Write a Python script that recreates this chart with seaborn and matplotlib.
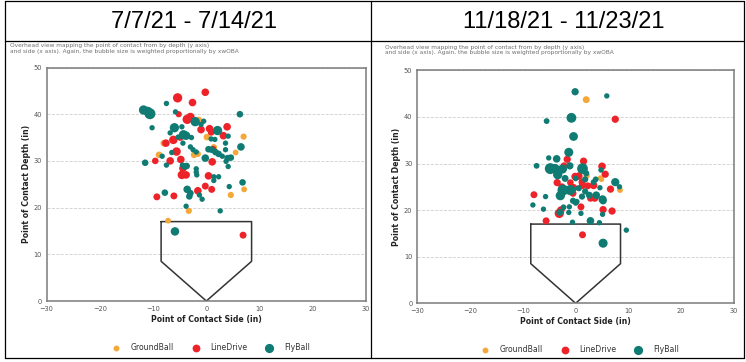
import matplotlib
matplotlib.use('Agg')
import matplotlib.pyplot as plt
import seaborn as sns
import pandas as pd
from matplotlib.lines import Line2D

OUT_FILE = 'out.png'

TYPES = ['GroundBall', 'LineDrive', 'FlyBall']
PALETTE = {'GroundBall': '#f4a83a', 'LineDrive': '#ee2229', 'FlyBall': '#0f7b73'}
TITLES = ['7/7/21 - 7/14/21', '11/18/21 - 11/23/21']
NOTE = ('Overhead view mapping the point of contact from by depth (y axis)\n'
        'and side (x axis). Again, the bubble size is weighted proportionally by xwOBA')
X_TICKS = [-30, -20, -10, 0, 10, 20, 30]
Y_TICKS = [0, 10, 20, 30, 40, 50]

# home plate outline (inches)
PLATE_X = [-8.5, 8.5, 8.5, 0, -8.5, -8.5]
PLATE_Y = [17, 17, 8.5, 0, 8.5, 17]

# ---- 7/7/21 - 7/14/21 : (side, depth, xwOBA) ----
JUL_GB = [(-1.4, 38.8, 0.4), (0.1, 35.1, 0.45), (-8.0, 33.8, 0.45), (-8.9, 31.3, 0.45),
          (-2.3, 31.3, 0.45), (-1.6, 31.5, 0.4), (1.4, 32.9, 0.45), (7.0, 35.2, 0.4),
          (5.5, 31.8, 0.35), (4.6, 22.7, 0.4), (7.1, 23.9, 0.35), (-3.3, 19.3, 0.4),
          (-7.2, 17.2, 0.35)]
JUL_LD = [(-5.4, 43.5, 0.9), (-0.2, 44.7, 0.6), (-2.6, 42.5, 0.6), (-5.2, 40.0, 0.4),
          (-3.6, 38.9, 0.9), (-3.0, 39.4, 0.75), (-1.0, 36.7, 0.6), (0.6, 36.9, 0.6),
          (3.9, 37.3, 0.6), (3.2, 35.4, 0.6), (0.9, 36.1, 0.45), (-6.2, 34.5, 0.75),
          (-7.6, 33.8, 0.6), (-5.6, 32.0, 0.75), (-4.8, 30.3, 0.6), (-6.8, 30.0, 0.6),
          (-9.6, 30.0, 0.45), (1.1, 29.8, 0.6), (-4.4, 28.4, 0.6), (-4.6, 27.0, 0.75),
          (-3.8, 27.0, 0.6), (0.4, 26.8, 0.6), (-0.2, 24.6, 0.5), (-1.6, 23.6, 0.6),
          (1.0, 23.9, 0.5), (-9.3, 22.3, 0.5), (-6.1, 22.5, 0.5), (6.9, 14.1, 0.5),
          (-4.9, 35.0, 0.45), (1.3, 32.6, 0.35)]
JUL_FB = [(-11.8, 40.9, 0.9), (-10.6, 40.1, 1.25), (-11.0, 40.6, 0.9), (-7.5, 42.3, 0.3),
          (-5.8, 40.5, 0.3), (-10.2, 37.1, 0.3), (-2.1, 38.4, 0.9), (-0.5, 38.5, 0.3),
          (-6.0, 37.1, 0.9), (-4.6, 37.3, 0.3), (-4.3, 35.6, 0.9), (-3.8, 35.4, 0.75),
          (-6.8, 36.0, 0.3), (-5.3, 35.1, 0.3), (2.1, 36.5, 0.9), (1.6, 34.6, 0.3),
          (4.1, 35.3, 0.3), (3.6, 33.8, 0.3), (6.3, 40.0, 0.45), (6.5, 33.0, 0.6),
          (-4.4, 33.8, 0.3), (-3.0, 33.0, 0.3), (-2.5, 32.4, 0.3), (-1.9, 31.9, 0.3),
          (0.4, 32.5, 0.45), (1.0, 32.4, 0.45), (1.7, 31.9, 0.45), (2.3, 31.5, 0.45),
          (3.0, 31.0, 0.3), (3.6, 32.4, 0.3), (4.0, 30.6, 0.45), (4.6, 30.7, 0.45),
          (3.7, 29.9, 0.3), (4.1, 28.8, 0.3), (-8.3, 31.0, 0.3), (-6.5, 31.8, 0.3),
          (-11.5, 29.6, 0.45), (-7.5, 29.1, 0.3), (-4.5, 29.1, 0.3), (-4.1, 28.8, 0.45),
          (-3.7, 28.9, 0.45), (-0.2, 30.6, 0.6), (-1.9, 28.3, 0.3), (-1.9, 27.6, 0.3),
          (-1.8, 27.0, 0.3), (1.4, 26.6, 0.3), (2.3, 26.6, 0.3), (1.4, 25.8, 0.3),
          (4.3, 24.5, 0.3), (6.8, 25.4, 0.45), (-3.6, 23.9, 0.6), (-3.0, 23.1, 0.45),
          (-3.2, 22.4, 0.45), (-7.8, 23.2, 0.45), (-1.3, 22.7, 0.3), (-0.8, 21.8, 0.3),
          (-3.8, 20.3, 0.3), (2.6, 19.3, 0.3), (-5.9, 14.9, 0.75), (-2.8, 35.0, 0.3),
          (0.9, 34.7, 0.3), (-1.0, 37.8, 0.3)]

# ---- 11/18/21 - 11/23/21 : (side, depth, xwOBA) ----
NOV_GB = [(2.0, 43.7, 0.5), (2.1, 27.4, 0.4), (4.9, 26.6, 0.3), (8.4, 24.3, 0.35),
          (4.7, 26.9, 0.3)]
NOV_LD = [(7.5, 39.5, 0.55), (-1.6, 30.9, 0.55), (1.5, 30.5, 0.55), (-2.2, 29.5, 0.5),
          (5.0, 29.4, 0.6), (5.6, 27.7, 0.55), (-0.1, 27.2, 0.6), (0.6, 27.3, 0.6),
          (-3.5, 25.9, 0.55), (-0.4, 24.8, 0.6), (1.3, 25.3, 0.55), (3.4, 25.3, 0.6),
          (6.6, 24.5, 0.55), (-7.9, 23.3, 0.5), (-0.5, 23.6, 0.5), (3.6, 22.6, 0.6),
          (1.0, 20.7, 0.5), (-3.1, 19.3, 0.9), (-5.6, 17.7, 0.5), (5.2, 20.1, 0.55),
          (6.9, 19.8, 0.55), (1.3, 14.7, 0.5), (-2.6, 25.0, 0.5), (1.2, 26.0, 0.5),
          (2.3, 25.2, 0.5), (2.8, 22.5, 0.45), (-1.0, 25.9, 0.45), (-2.8, 20.0, 0.6)]
NOV_FB = [(-0.1, 45.4, 0.55), (5.9, 44.5, 0.3), (-5.5, 39.1, 0.35), (-0.8, 39.8, 1.0),
          (-0.4, 35.8, 0.8), (-1.3, 32.4, 0.85), (-3.6, 31.0, 0.6), (-5.1, 31.2, 0.3),
          (-7.4, 29.5, 0.35), (-4.8, 28.9, 1.25), (-3.9, 28.9, 0.9), (-2.5, 28.8, 0.85),
          (-1.1, 29.5, 0.55), (1.3, 28.9, 1.2), (4.8, 28.6, 0.3), (-3.4, 27.6, 0.9),
          (0.0, 26.8, 0.35), (2.0, 27.9, 0.4), (7.5, 26.0, 0.7), (3.4, 26.0, 0.35),
          (8.3, 25.0, 0.3), (4.6, 24.8, 0.3), (-5.7, 22.9, 0.3), (-2.4, 24.3, 1.25),
          (-1.0, 24.3, 1.1), (-2.9, 23.1, 0.9), (0.6, 24.7, 0.4), (1.8, 24.0, 0.4),
          (5.1, 22.3, 0.7), (-8.1, 21.1, 0.3), (-6.1, 20.2, 0.3), (-2.3, 20.6, 0.35),
          (-3.0, 19.5, 0.5), (-0.6, 17.4, 0.3), (2.8, 17.7, 0.6), (4.5, 17.3, 0.3),
          (1.0, 19.3, 0.3), (5.1, 19.1, 0.3), (-1.3, 19.5, 0.3), (-1.2, 20.7, 0.3),
          (0.0, 21.5, 0.3), (5.2, 22.0, 0.55), (5.2, 12.9, 0.85), (9.6, 15.7, 0.3),
          (-2.0, 26.8, 0.5), (-0.5, 22.0, 0.4), (1.2, 22.9, 0.4), (2.6, 23.2, 0.5),
          (3.9, 23.2, 0.6), (0.2, 21.8, 0.35), (1.8, 26.6, 0.4), (3.8, 26.6, 0.35)]

PANELS = [(JUL_GB, JUL_LD, JUL_FB), (NOV_GB, NOV_LD, NOV_FB)]

# layout in pixels of the 746x362 picture
W, H = 746, 362
AX_BOX = [(46.7, 67.5, 366.0, 301.0), (417.3, 70.3, 734.0, 303.3)]
TITLE_X = [194, 564]
NOTE_POS = [(10, 43.5), (385, 44.5)]
LEGEND_X = [209, 578]
LEGEND_Y = [348, 350]


def build_frame(gb, ld, fb):
    rows = []
    for name, pts in zip(TYPES, (gb, ld, fb)):
        for side, depth, xw in pts:
            rows.append({'side': side, 'depth': depth, 'xwoba': xw, 'type': name})
    return pd.DataFrame(rows)


def px_box(box):
    x0, y0, x1, y1 = box
    return [x0 / W, 1 - y1 / H, (x1 - x0) / W, (y1 - y0) / H]


def fig_line(fig, x0, y0, x1, y1):
    fig.add_artist(Line2D([x0 / W, x1 / W], [1 - y0 / H, 1 - y1 / H],
                          transform=fig.transFigure, color='black', lw=0.9))


def draw_panel(fig, i, pts):
    ax = fig.add_axes(px_box(AX_BOX[i]))
    df = build_frame(*pts)
    sns.scatterplot(data=df, x='side', y='depth', hue='type', hue_order=TYPES,
                    palette=PALETTE, size='xwoba', sizes=(0, 70), size_norm=(0, 1.4),
                    linewidth=0, legend=False, ax=ax, zorder=3)
    ax.plot(PLATE_X, PLATE_Y, color='#333333', lw=1.1, zorder=2)
    ax.set_xlim(-30, 30)
    ax.set_ylim(0, 50)
    ax.set_xticks(X_TICKS)
    ax.set_yticks(Y_TICKS)
    ax.tick_params(labelsize=4.8, colors='#555555', length=2, width=0.6, pad=1.5)
    ax.yaxis.grid(True, linestyle='--', color='#cfcfcf', linewidth=0.6)
    ax.xaxis.grid(False)
    ax.set_axisbelow(True)
    for sp in ax.spines.values():
        sp.set_color('#7a7a7a')
        sp.set_linewidth(1.1)
    ax.set_xlabel('Point of Contact Side (in)', fontsize=5.6, fontweight='bold',
                  color='#222222', labelpad=2)
    ax.set_ylabel('Point of Contact Depth (in)', fontsize=5.6, fontweight='bold',
                  color='#222222', labelpad=2)

    fig.text(TITLE_X[i] / W, 1 - 22 / H, TITLES[i], ha='center', va='center',
             fontsize=17, family='Liberation Sans', color='black')
    nx, ny = NOTE_POS[i]
    fig.text(nx / W, 1 - ny / H, NOTE, ha='left', va='top', fontsize=4.2,
             color='#707070', linespacing=1.1)

    handles = [Line2D([], [], marker='o', ls='', color=PALETTE[t], markersize=ms)
               for t, ms in zip(TYPES, (3.2, 4.6, 5.6))]
    fig.legend(handles, TYPES, loc='center', ncol=3, frameon=False,
               bbox_to_anchor=(LEGEND_X[i] / W, 1 - LEGEND_Y[i] / H),
               fontsize=5.6, handletextpad=0.9, columnspacing=1.8,
               labelcolor='#333333')


def main():
    sns.set_style('white')
    fig = plt.figure(figsize=(W / 100, H / 100), dpi=100)

    # table borders around the two panels
    fig_line(fig, 5, 1, 744, 1)
    fig_line(fig, 5, 41, 744, 41)
    fig_line(fig, 5, 358, 744, 358)
    fig_line(fig, 5, 1, 5, 358)
    fig_line(fig, 744, 1, 744, 358)
    fig_line(fig, 371, 1, 371, 358)

    for i, pts in enumerate(PANELS):
        draw_panel(fig, i, pts)

    fig.savefig(OUT_FILE, dpi=100, facecolor='white')
    plt.close(fig)


if __name__ == '__main__':
    main()
